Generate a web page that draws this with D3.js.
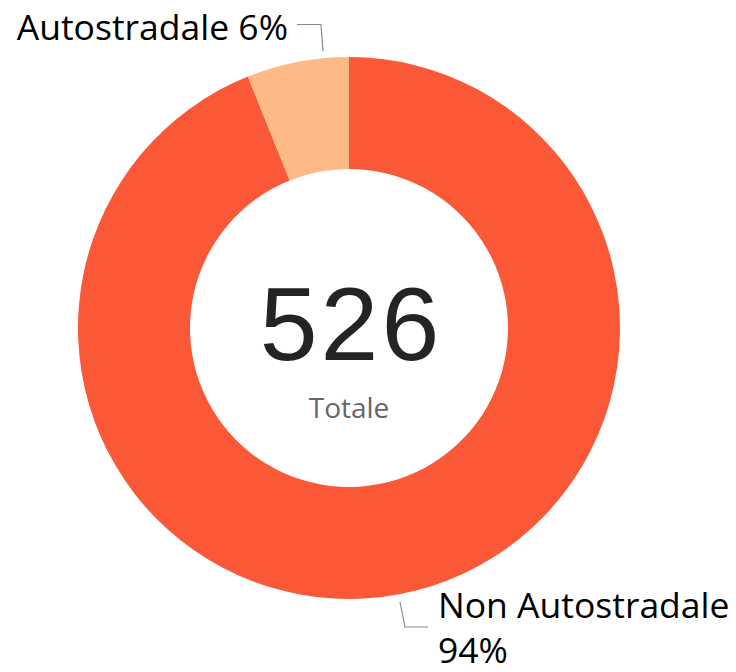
<!DOCTYPE html>
<html><head><meta charset="utf-8">
<script src="https://cdn.jsdelivr.net/npm/d3@7"></script>
<style>html,body{margin:0;padding:0;background:#fff;}svg{display:block;}</style>
</head><body>
<svg id="chart" width="736" height="672"></svg>
<script>
const categories = ["Non Autostradale", "Autostradale"];
const values = [494, 32];
const percentLabels = ["94%", "6%"];
const colors = ["#FA5837", "#FDBA87"];
const totalLabel = "Totale";

const svg = d3.select("#chart");
const cx = 349, cy = 328, rOuter = 271, rInner = 159;
const g = svg.append("g").attr("transform", `translate(${cx},${cy})`);

const pie = d3.pie().sort(null).value(d => d);
const arcs = pie(values);
const arc = d3.arc().innerRadius(rInner).outerRadius(rOuter);

g.selectAll("path.slice").data(arcs).enter().append("path")
  .attr("class", "slice")
  .attr("d", arc)
  .attr("fill", (d, i) => colors[i]);

const total = d3.sum(values);
g.append("text").attr("x", 2).attr("y", 32)
  .attr("text-anchor", "middle")
  .attr("font-family", "Liberation Sans, Arial, sans-serif")
  .attr("font-size", 104)
  .attr("letter-spacing", 3)
  .attr("fill", "#252423")
  .text(d3.format("d")(total));
g.append("text").attr("x", 0).attr("y", 90)
  .attr("text-anchor", "middle")
  .attr("font-family", "Open Sans, Noto Sans, sans-serif")
  .attr("font-size", 28)
  .attr("fill", "#666666")
  .text(totalLabel);

const lineColor = "#8a8a8a";
const labelFont = "Open Sans, Noto Sans, sans-serif";
const pct = d3.format(".0%");

// Autostradale label (top-left)
svg.append("path")
  .attr("d", d3.line()([[297, 24.5], [321, 24.5], [323, 51]]))
  .attr("fill", "none").attr("stroke", lineColor).attr("stroke-width", 1.2);
svg.append("text").attr("x", 288).attr("y", 40)
  .attr("text-anchor", "end")
  .attr("font-family", labelFont).attr("font-size", 35.5).attr("fill", "#000")
  .text(`${categories[1]} ${pct(values[1] / total)}`);

// Non Autostradale label (bottom-right)
svg.append("path")
  .attr("d", d3.line()([[400, 602], [405, 627], [428, 627]]))
  .attr("fill", "none").attr("stroke", lineColor).attr("stroke-width", 1.2);
const t2 = svg.append("text").attr("x", 438).attr("y", 618)
  .attr("font-family", labelFont).attr("font-size", 35.5).attr("fill", "#000");
t2.append("tspan").attr("x", 438).attr("y", 618).text(categories[0]);
t2.append("tspan").attr("x", 438).attr("y", 663).text(pct(values[0] / total));
</script>
</body></html>
